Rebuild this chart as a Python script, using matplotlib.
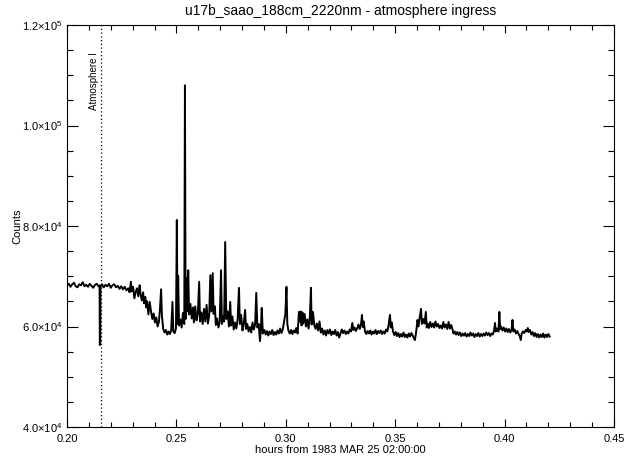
import matplotlib
matplotlib.use("Agg")
import matplotlib.pyplot as plt
from matplotlib.ticker import MultipleLocator, FixedLocator, FixedFormatter

plt.rcParams['font.family'] = ['Liberation Sans', 'DejaVu Sans']
plt.rcParams['mathtext.fontset'] = 'custom'
plt.rcParams['mathtext.rm'] = 'Liberation Sans'
plt.rcParams['mathtext.it'] = 'Liberation Sans'

# data (counts in thousands)
hours = [
    0.2000, 0.2008, 0.2016, 0.2024, 0.2032, 0.2040, 0.2048, 0.2056, 0.2064, 0.2072,
    0.2080, 0.2088, 0.2096, 0.2104, 0.2112, 0.2120, 0.2128, 0.2136, 0.2144, 0.2149,
    0.2150, 0.2152, 0.2153, 0.2160, 0.2168, 0.2176, 0.2184, 0.2192, 0.2200, 0.2208,
    0.2216, 0.2224, 0.2232, 0.2240, 0.2248, 0.2256, 0.2264, 0.2272, 0.2280, 0.2286,
    0.2292, 0.2296, 0.2302, 0.2308, 0.2314, 0.2320, 0.2326, 0.2332, 0.2336, 0.2342,
    0.2348, 0.2352, 0.2358, 0.2362, 0.2366, 0.2372, 0.2378, 0.2384, 0.2390, 0.2396,
    0.2402, 0.2408, 0.2414, 0.2420, 0.2425, 0.2430, 0.2434, 0.2440, 0.2446, 0.2452,
    0.2458, 0.2464, 0.2470, 0.2476, 0.2482, 0.2486, 0.2492, 0.2498, 0.2502, 0.2505,
    0.2508, 0.2512, 0.2518, 0.2524, 0.2530, 0.2536, 0.2539, 0.2542, 0.2546, 0.2550,
    0.2554, 0.2558, 0.2564, 0.2570, 0.2576, 0.2580, 0.2586, 0.2592, 0.2598, 0.2604,
    0.2608, 0.2614, 0.2620, 0.2626, 0.2632, 0.2638, 0.2644, 0.2650, 0.2655, 0.2660,
    0.2666, 0.2670, 0.2676, 0.2680, 0.2686, 0.2692, 0.2698, 0.2704, 0.2708, 0.2714,
    0.2718, 0.2723, 0.2728, 0.2734, 0.2740, 0.2746, 0.2750, 0.2756, 0.2762, 0.2768,
    0.2774, 0.2780, 0.2786, 0.2790, 0.2796, 0.2802, 0.2808, 0.2814, 0.2818, 0.2824,
    0.2830, 0.2836, 0.2842, 0.2848, 0.2854, 0.2860, 0.2865, 0.2870, 0.2876, 0.2882,
    0.2886, 0.2890, 0.2895, 0.2902, 0.2908, 0.2914, 0.2920, 0.2926, 0.2932, 0.2938,
    0.2944, 0.2950, 0.2956, 0.2962, 0.2968, 0.2974, 0.2980, 0.2986, 0.2992, 0.2998,
    0.3003, 0.3007, 0.3012, 0.3018, 0.3024, 0.3030, 0.3036, 0.3042, 0.3048, 0.3054,
    0.3060, 0.3064, 0.3068, 0.3072, 0.3076, 0.3080, 0.3086, 0.3092, 0.3098, 0.3104,
    0.3110, 0.3115, 0.3118, 0.3124, 0.3130, 0.3136, 0.3142, 0.3148, 0.3154, 0.3160,
    0.3166, 0.3172, 0.3178, 0.3184, 0.3190, 0.3196, 0.3202, 0.3208, 0.3214, 0.3220,
    0.3226, 0.3232, 0.3238, 0.3244, 0.3250, 0.3256, 0.3262, 0.3268, 0.3274, 0.3280,
    0.3286, 0.3292, 0.3298, 0.3304, 0.3308, 0.3314, 0.3320, 0.3326, 0.3332, 0.3338,
    0.3344, 0.3348, 0.3352, 0.3356, 0.3362, 0.3368, 0.3374, 0.3380, 0.3386, 0.3392,
    0.3398, 0.3404, 0.3410, 0.3416, 0.3422, 0.3428, 0.3434, 0.3440, 0.3446, 0.3452,
    0.3458, 0.3464, 0.3470, 0.3476, 0.3480, 0.3484, 0.3490, 0.3496, 0.3502, 0.3508,
    0.3514, 0.3520, 0.3526, 0.3532, 0.3538, 0.3544, 0.3550, 0.3556, 0.3562, 0.3568,
    0.3574, 0.3580, 0.3586, 0.3590, 0.3596, 0.3602, 0.3606, 0.3612, 0.3618, 0.3622,
    0.3628, 0.3634, 0.3640, 0.3644, 0.3648, 0.3654, 0.3660, 0.3666, 0.3672, 0.3678,
    0.3684, 0.3690, 0.3696, 0.3702, 0.3708, 0.3714, 0.3720, 0.3726, 0.3732, 0.3738,
    0.3744, 0.3750, 0.3756, 0.3762, 0.3766, 0.3772, 0.3778, 0.3784, 0.3790, 0.3796,
    0.3802, 0.3808, 0.3814, 0.3820, 0.3826, 0.3832, 0.3838, 0.3844, 0.3850, 0.3856,
    0.3862, 0.3868, 0.3874, 0.3880, 0.3886, 0.3892, 0.3898, 0.3904, 0.3910, 0.3916,
    0.3922, 0.3928, 0.3934, 0.3940, 0.3946, 0.3952, 0.3956, 0.3960, 0.3966, 0.3972,
    0.3976, 0.3980, 0.3984, 0.3990, 0.3996, 0.4002, 0.4008, 0.4014, 0.4020, 0.4026,
    0.4032, 0.4036, 0.4040, 0.4046, 0.4052, 0.4058, 0.4064, 0.4070, 0.4074, 0.4078,
    0.4084, 0.4090, 0.4096, 0.4102, 0.4106, 0.4110, 0.4116, 0.4122, 0.4128, 0.4134,
    0.4140, 0.4146, 0.4152, 0.4158, 0.4164, 0.4170, 0.4176, 0.4182, 0.4188, 0.4194,
    0.4200, 0.4206,
]
counts_k = [
    68.1, 68.5, 67.9, 68.4, 68.7, 68.0, 67.8, 68.4, 68.2, 68.8,
    68.0, 68.3, 67.9, 68.5, 68.1, 67.7, 68.3, 68.5, 68.0, 68.2,
    56.3, 56.8, 67.9, 68.4, 67.8, 68.3, 68.0, 68.5, 67.7, 68.2,
    68.4, 67.8, 68.1, 67.5, 68.0, 67.4, 67.9, 67.2, 67.6, 66.8,
    68.9, 67.0, 67.9, 65.6, 66.9, 67.6, 66.0, 68.2, 66.5, 65.2,
    66.8, 64.6, 65.9, 63.8, 65.0, 62.4, 64.9, 63.0, 61.5, 62.6,
    60.8, 61.8, 60.0, 60.9, 63.5, 67.4, 62.0, 59.5, 58.8, 59.3,
    58.4, 59.0, 58.5, 59.2, 64.9, 59.0, 58.7, 59.6, 81.2, 60.5,
    70.1, 60.2, 61.4, 59.8, 62.7, 60.5, 108.0, 61.5, 69.6, 63.0,
    71.2, 62.4, 64.5, 61.6, 63.8, 60.8, 64.0, 61.2, 62.5, 68.9,
    61.0, 62.8, 60.5, 63.5, 61.0, 64.3, 60.6, 62.2, 70.2, 63.0,
    70.6, 62.5, 64.0, 60.3, 61.6, 59.8, 61.0, 71.2, 60.5, 62.0,
    61.0, 76.8, 61.5, 63.0, 60.0, 64.9, 60.2, 62.0, 59.4, 60.8,
    59.6, 61.5, 67.7, 60.5, 62.3, 59.2, 60.6, 63.3, 59.5, 60.5,
    59.0, 59.9, 58.8, 60.8, 59.4, 60.5, 66.7, 59.8, 60.5, 57.1,
    59.5, 63.7, 58.6, 59.3, 58.4, 59.1, 58.2, 59.0, 58.5, 59.3,
    58.3, 58.9, 58.4, 59.2, 58.6, 59.6, 58.7, 59.4, 61.0, 62.5,
    67.9, 60.5, 59.2, 58.6, 59.3, 58.5, 59.2, 58.8, 59.7, 58.6,
    62.9, 61.0, 63.0, 60.2, 62.8, 60.6, 62.5, 60.0, 61.4, 59.6,
    62.0, 67.7, 60.4, 62.9, 60.3, 59.5, 60.6, 59.2, 61.0, 58.8,
    59.6, 58.4, 59.2, 58.2, 59.3, 58.6, 59.4, 58.3, 59.0, 58.5,
    59.3, 58.2, 58.9, 57.8, 58.6, 59.4, 58.7, 59.2, 58.5, 59.0,
    58.6, 59.4, 59.0, 60.7, 59.3, 59.8, 59.1, 59.6, 60.4, 59.5,
    60.5, 62.3, 59.9, 61.0, 59.0, 58.5, 59.1, 58.6, 59.2, 58.4,
    59.0, 58.6, 59.3, 58.5, 59.1, 58.7, 59.2, 58.5, 59.0, 58.6,
    59.4, 59.0, 60.3, 62.3, 59.8, 60.8, 59.0, 58.3, 58.9, 58.1,
    58.7, 57.9, 58.5, 58.0, 58.8, 57.9, 58.4, 57.8, 58.6, 58.0,
    58.7, 58.2, 57.6, 57.3, 59.0, 61.3, 60.0, 61.8, 63.5, 60.5,
    61.5, 60.6, 62.9, 59.8, 60.6, 59.7, 60.9, 59.9, 60.6, 59.8,
    61.0, 60.0, 60.5, 59.7, 60.2, 59.6, 60.9, 59.8, 60.4, 59.5,
    60.9, 59.6, 60.3, 59.4, 58.6, 59.0, 58.4, 58.9, 58.3, 58.8,
    58.1, 58.6, 58.2, 58.7, 58.0, 58.5, 58.1, 58.8, 58.2, 58.6,
    57.9, 58.5, 58.1, 58.7, 58.0, 58.5, 58.1, 58.6, 58.2, 58.8,
    58.3, 58.7, 58.1, 58.6, 58.4, 59.2, 60.7, 59.0, 59.6, 59.0,
    62.9, 59.5, 60.0, 59.2, 59.8, 59.0, 59.6, 58.9, 59.5, 58.8,
    59.3, 61.3, 59.0, 59.4, 58.6, 59.1, 58.5, 58.0, 57.3, 58.6,
    59.0, 58.7, 59.3, 59.0, 59.7, 58.9, 59.3, 58.4, 58.9, 58.1,
    58.7, 57.9, 58.5, 57.8, 58.4, 57.9, 58.6, 57.8, 58.4, 57.9,
    58.5, 58.0,
]
counts = [c * 1000 for c in counts_k]

event_time = 0.2155
event_label = 'Atmosphere I'
y_ticks = [40000, 60000, 80000, 100000, 120000]
y_ticklabels = [r'4.0×10$^{4}$', r'6.0×10$^{4}$', r'8.0×10$^{4}$',
                r'1.0×10$^{5}$', r'1.2×10$^{5}$']
x_ticks = [0.20, 0.25, 0.30, 0.35, 0.40, 0.45]
x_ticklabels = ['0.20', '0.25', '0.30', '0.35', '0.40', '0.45']

fig = plt.figure(figsize=(6.26, 4.58), dpi=100)
ax = fig.add_axes([67/626, 31/458, 547/626, 402/458])

ax.plot(hours, counts, color='black', lw=1.4)
ax.axvline(event_time, color='black', lw=0.9, linestyle=(0, (1, 2)))
ax.text(event_time - 0.0008, 114600, event_label, rotation=90,
        ha='right', va='top', fontsize=7)

ax.set_xlim(0.20, 0.45)
ax.set_ylim(40000, 120000)
ax.xaxis.set_major_locator(FixedLocator(x_ticks))
ax.xaxis.set_major_formatter(FixedFormatter(x_ticklabels))
ax.xaxis.set_minor_locator(MultipleLocator(0.01))
ax.yaxis.set_major_locator(FixedLocator(y_ticks))
ax.yaxis.set_major_formatter(FixedFormatter(y_ticklabels))
ax.yaxis.set_minor_locator(MultipleLocator(5000))

ax.tick_params(axis='both', which='both', direction='in', top=True, right=True,
               labelsize=8, width=0.8, color='black')
ax.tick_params(axis='x', which='major', length=5.8, pad=5)
ax.tick_params(axis='x', which='minor', length=3.6)
ax.tick_params(axis='y', which='major', length=7.9, pad=3)
ax.tick_params(axis='y', which='minor', length=4.3)
for s in ax.spines.values():
    s.set_linewidth(0.8)

ax.set_xlabel('hours from 1983 MAR 25 02:00:00', fontsize=8, labelpad=1)
ax.set_ylabel('Counts', fontsize=8, labelpad=0)
ax.set_title('u17b_saao_188cm_2220nm - atmosphere ingress', fontsize=10, pad=7)

fig.savefig('out.png', dpi=100)
